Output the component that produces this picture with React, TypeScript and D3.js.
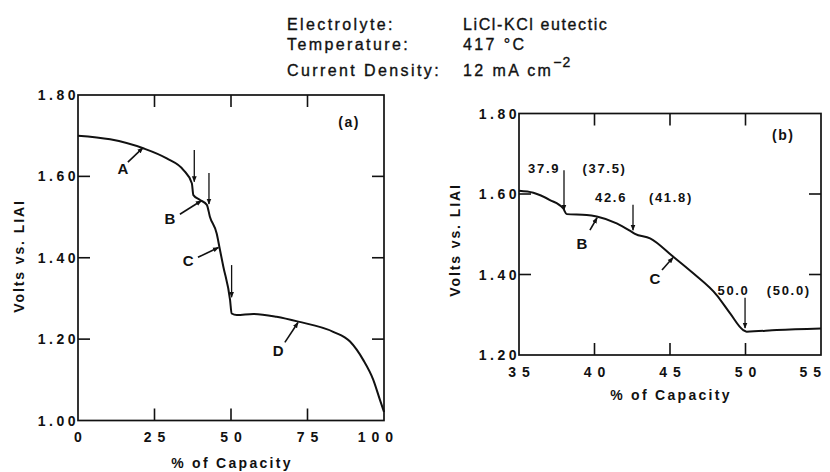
import { useRef, useEffect } from 'react';
import * as d3 from 'd3';

// panel (a): full discharge
const capacityA = [0, 10.5, 21.3, 29, 34.4, 37.2, 37.7, 39.9, 42.1, 43.1, 45.3, 46.4, 47.5, 49.7, 50.2, 51.9, 57.3, 64.9, 72, 83.4, 88.9, 93.2, 96.5, 98.7, 100];
const voltsA = [1.70, 1.691, 1.669, 1.644, 1.616, 1.583, 1.554, 1.542, 1.530, 1.501, 1.460, 1.419, 1.378, 1.296, 1.263, 1.259, 1.262, 1.255, 1.243, 1.218, 1.194, 1.149, 1.100, 1.050, 1.021];

// panel (b): detail 35-55 %
const capacityB = [35, 35.95, 37.05, 37.93, 38.16, 39.48, 40.15, 41.47, 42.46, 42.68, 43.68, 45.22, 46.54, 48.09, 48.97, 49.85, 50.08, 52.07, 55];
const voltsB = [1.608, 1.603, 1.585, 1.564, 1.550, 1.548, 1.544, 1.527, 1.506, 1.501, 1.490, 1.444, 1.403, 1.349, 1.304, 1.262, 1.258, 1.262, 1.266];

const xTicksA = [0, 25, 50, 75, 100];
const yTicksA = [1.0, 1.2, 1.4, 1.6, 1.8];
const xTicksB = [35, 40, 45, 50, 55];
const yTicksB = [1.2, 1.4, 1.6, 1.8];

const headerLabels = ['Electrolyte:', 'Temperature:', 'Current Density:'];
const headerValues = ['LiCl-KCl eutectic', '417 °C', '12 mA cm'];

// transition arrows: [capacity, from volts, to volts]
const arrowsA = [[38.0, 1.665, 1.587], [42.8, 1.608, 1.532], [50.2, 1.382, 1.303]];
const arrowsB = [[37.98, 1.659, 1.560], [42.55, 1.573, 1.510], [49.97, 1.342, 1.267]];

// region labels: [label, text x, text y, line x0, y0, x1, y1]
const regionsA = [
  ['A', 14.7, 1.62, 16.3, 1.635, 21.2, 1.670],
  ['B', 30.0, 1.495, 33.3, 1.507, 40.3, 1.540],
  ['C', 36.0, 1.394, 39.2, 1.401, 45.9, 1.425],
  ['D', 65.4, 1.172, 67.6, 1.192, 71.9, 1.241],
];
const regionsB = [
  ['B', 39.17, 1.478, 39.7, 1.510, 40.17, 1.541],
  ['C', 44.0, 1.391, 44.47, 1.411, 45.2, 1.442],
];

// capacity values: [text, x, baseline volts]
const notesB = [
  ['37.9', 36.6, 1.652], ['(37.5)', 40.6, 1.652],
  ['42.6', 41.03, 1.581], ['(41.8)', 45.0, 1.581],
  ['50.0', 49.14, 1.349], ['(50.0)', 52.8, 1.349],
];

const FONT = '"Liberation Sans", Arial, Helvetica, sans-serif';

function drawPanel(svg, o) {
  const x = d3.scaleLinear().domain(o.xDomain).range([o.left, o.right]);
  const y = d3.scaleLinear().domain(o.yDomain).range([o.bottom, o.top]);
  const g = svg.append('g');
  const tl = 12;

  g.append('rect')
    .attr('x', o.left).attr('y', o.top)
    .attr('width', o.right - o.left).attr('height', o.bottom - o.top)
    .attr('fill', 'none').attr('stroke', '#111').attr('stroke-width', 1.7);

  const innerX = o.xTicks.slice(1, -1);
  const innerY = o.yTicks.slice(1, -1);
  innerX.forEach(v => {
    g.append('line').attr('x1', x(v)).attr('x2', x(v)).attr('y1', o.top).attr('y2', o.top + tl)
      .attr('stroke', '#111').attr('stroke-width', 1.6);
    g.append('line').attr('x1', x(v)).attr('x2', x(v)).attr('y1', o.bottom).attr('y2', o.bottom - tl)
      .attr('stroke', '#111').attr('stroke-width', 1.6);
  });
  innerY.forEach(v => {
    g.append('line').attr('x1', o.left).attr('x2', o.left + tl).attr('y1', y(v)).attr('y2', y(v))
      .attr('stroke', '#111').attr('stroke-width', 1.6);
    g.append('line').attr('x1', o.right).attr('x2', o.right - tl).attr('y1', y(v)).attr('y2', y(v))
      .attr('stroke', '#111').attr('stroke-width', 1.6);
  });

  const bold = sel => sel.attr('font-family', FONT).attr('font-weight', 'bold').attr('fill', '#111');

  o.yTicks.forEach(v => {
    bold(g.append('text')).attr('x', o.left + 1).attr('y', y(v) + 5)
      .attr('text-anchor', 'end').attr('font-size', 14).attr('letter-spacing', 3.5)
      .text(d3.format('.2f')(v));
  });
  o.xTicks.forEach((v, i) => {
    const last = i === o.xTicks.length - 1;
    bold(g.append('text')).attr('x', last ? o.right + o.lastOffset : x(v) + 3).attr('y', o.xLabelY)
      .attr('text-anchor', last ? 'end' : 'middle').attr('font-size', 14).attr('letter-spacing', 6)
      .text(v);
  });
  bold(g.append('text')).attr('x', (o.left + o.right) / 2 + 1).attr('y', o.xTitleY)
    .attr('text-anchor', 'middle').attr('font-size', 14).attr('letter-spacing', 2.3)
    .text('% of Capacity');
  bold(g.append('text'))
    .attr('transform', `translate(${o.yTitleX},${o.yTitleMid}) rotate(-90)`)
    .attr('text-anchor', 'middle').attr('dy', '0.35em').attr('font-size', 14).attr('letter-spacing', 1.9)
    .text('Volts vs. LIAI');

  const line = d3.line().x(d => x(d[0])).y(d => y(d[1])).curve(d3.curveMonotoneX);
  g.append('path')
    .datum(o.xs.map((v, i) => [v, o.ys[i]]))
    .attr('fill', 'none').attr('stroke', '#111').attr('stroke-width', 2)
    .attr('d', line);

  o.arrows.forEach(a => {
    g.append('line').attr('x1', x(a[0])).attr('x2', x(a[0])).attr('y1', y(a[1])).attr('y2', y(a[2]))
      .attr('stroke', '#111').attr('stroke-width', 1.3).attr('marker-end', 'url(#head)');
  });
  o.regions.forEach(r => {
    g.append('line').attr('x1', x(r[3])).attr('y1', y(r[4])).attr('x2', x(r[5])).attr('y2', y(r[6]))
      .attr('stroke', '#111').attr('stroke-width', 1.6).attr('marker-end', 'url(#head)');
    bold(g.append('text')).attr('x', x(r[1])).attr('y', y(r[2])).attr('dy', '0.36em')
      .attr('text-anchor', 'middle').attr('font-size', 15).text(r[0]);
  });
  o.notes.forEach(n => {
    bold(g.append('text')).attr('x', x(n[1]) + 1).attr('y', y(n[2]))
      .attr('text-anchor', 'middle').attr('font-size', 13).attr('letter-spacing', 1.7).text(n[0]);
  });
  bold(g.append('text')).attr('x', x(o.tag[1])).attr('y', y(o.tag[2]))
    .attr('text-anchor', 'middle').attr('font-size', 14).attr('letter-spacing', 1.5).text(o.tag[0]);
}

export default function App() {
  const svgRef = useRef(null);

  useEffect(() => {
    const svg = d3.select(svgRef.current);
    svg.selectAll('*').remove();

    svg.append('defs').append('marker')
      .attr('id', 'head').attr('viewBox', '0 0 10 10').attr('refX', 9).attr('refY', 5)
      .attr('markerWidth', 6).attr('markerHeight', 6).attr('markerUnits', 'userSpaceOnUse')
      .attr('orient', 'auto')
      .append('path').attr('d', 'M0,1 L10,5 L0,9 Z').attr('fill', '#111');

    headerLabels.forEach((t, i) => {
      const base = [30, 50, 76][i];
      svg.append('text').attr('x', 287).attr('y', base)
        .attr('font-family', FONT).attr('font-size', 16).attr('letter-spacing', 2.4)
        .attr('fill', '#111').attr('stroke', '#111').attr('stroke-width', 0.35)
        .text(t);
      const v = svg.append('text').attr('x', 463).attr('y', base)
        .attr('font-family', FONT).attr('font-size', 16).attr('letter-spacing', i === 0 ? 1.6 : 2.4)
        .attr('fill', '#111').attr('stroke', '#111').attr('stroke-width', 0.35)
        .text(headerValues[i]);
      if (i === 2) {
        v.append('tspan').attr('dy', -9).attr('font-size', 14).attr('letter-spacing', 1).text('−2');
      }
    });

    drawPanel(svg, {
      xDomain: [0, 100], yDomain: [1.0, 1.8],
      left: 78, right: 384, top: 95, bottom: 420.5,
      xTicks: xTicksA, yTicks: yTicksA,
      xLabelY: 442, xTitleY: 468, yTitleX: 19, yTitleMid: 256,
      xs: capacityA, ys: voltsA,
      arrows: arrowsA, regions: regionsA, notes: [],
      tag: ['(a)', 88.6, 1.721], lastOffset: 15,
    });

    drawPanel(svg, {
      xDomain: [35, 55], yDomain: [1.2, 1.8],
      left: 519, right: 821, top: 113.5, bottom: 355,
      xTicks: xTicksB, yTicks: yTicksB,
      xLabelY: 377, xTitleY: 400, yTitleX: 455, yTitleMid: 240,
      xs: capacityB, ys: voltsB,
      arrows: arrowsB, regions: regionsB, notes: notesB,
      tag: ['(b)', 52.5, 1.734], lastOffset: 6,
    });
  }, []);

  return (
    <svg ref={svgRef} width={830} height={472}
      style={{ position: 'absolute', left: 0, top: 0, background: '#fff' }} />
  );
}
